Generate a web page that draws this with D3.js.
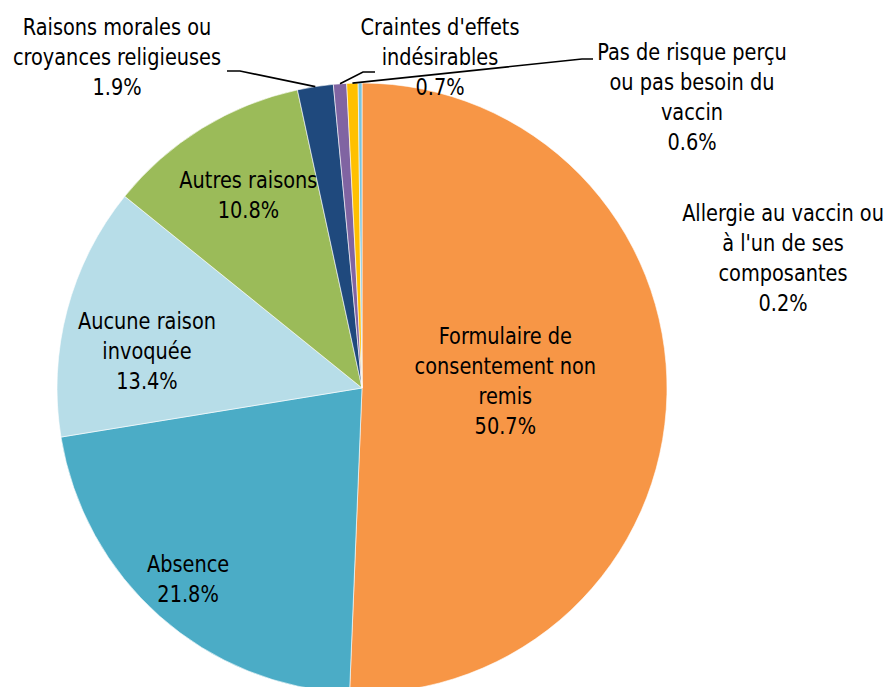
<!DOCTYPE html>
<html>
<head>
<meta charset="utf-8">
<script src="https://cdn.jsdelivr.net/npm/d3@7"></script>
<style>
  html, body { margin: 0; padding: 0; background: #fff; }
  svg { display: block; }
  text { font-family: "Liberation Sans Narrow", "Arial Narrow", "DejaVu Sans Condensed", sans-serif; font-size: 23px; fill: #000; }
</style>
</head>
<body>
<svg id="chart" width="885" height="687"></svg>
<script>
// ---- data ----
const categories = [
  "Formulaire de consentement non remis",
  "Absence",
  "Aucune raison invoquée",
  "Autres raisons",
  "Raisons morales ou croyances religieuses",
  "Craintes d'effets indésirables",
  "Pas de risque perçu ou pas besoin du vaccin",
  "Allergie au vaccin ou à l'un de ses composantes"
];
const values = [50.7, 21.8, 13.4, 10.8, 1.9, 0.7, 0.6, 0.2];
const labelLines = [
  ["Formulaire de", "consentement non", "remis"],
  ["Absence"],
  ["Aucune raison", "invoquée"],
  ["Autres raisons"],
  ["Raisons morales ou", "croyances religieuses"],
  ["Craintes d'effets", "indésirables"],
  ["Pas de risque perçu", "ou pas besoin du", "vaccin"],
  ["Allergie au vaccin ou", "à l'un de ses", "composantes"]
];
const colors = ["#F79646", "#4BACC6", "#B7DDE8", "#9BBB59", "#1F497D", "#8064A2", "#FFC000", "#7CC4DC"];

// ---- layout ----
const W = 885, H = 687;
const cx = 362, cy = 388, R = 305;
const lineH = 30;
const sx = 0.935; // horizontal condense factor
const labelLayout = [
  {type: "in", r: 0.47, dy: -2},
  {type: "in", r: 0.86, dy: 3},
  {type: "in", r: 0.71, dy: -3, angOff: -0.14},
  {type: "in", r: 0.71, dy: -1},
  {type: "out", x: 117, y: 35, leader: [[227, 71], [240, 71]]},
  {type: "out", x: 440, y: 35, leader: [[375, 72], [363, 72]]},
  {type: "out", x: 692, y: 60, leader: [[593, 59], [582, 59]]},
  {type: "out", x: 783, y: 221}
];

const svg = d3.select("#chart");
const g = svg.append("g").attr("transform", `translate(${cx},${cy})`);

const pie = d3.pie().sort(null).value(d => d);
const arcs = pie(values);
const arc = d3.arc().innerRadius(0).outerRadius(R);

g.selectAll("path.slice")
  .data(arcs)
  .join("path")
  .attr("class", "slice")
  .attr("d", arc)
  .attr("fill", (d, i) => colors[i])
  .attr("stroke", "#fff")
  .attr("stroke-width", 0.6);

const fmt = v => v.toFixed(1) + "%";

arcs.forEach((d, i) => {
  const L = labelLayout[i];
  const lines = labelLines[i].concat([fmt(values[i])]);
  let x0, y0;
  if (L.type === "in") {
    const a = (d.startAngle + d.endAngle) / 2 + (L.angOff || 0);
    const rr = R * L.r;
    const px = Math.sin(a) * rr, py = -Math.cos(a) * rr;
    x0 = cx + px;
    const n = lines.length;
    y0 = cy + py - (n - 1) * lineH / 2 + L.dy;
  } else {
    x0 = L.x; y0 = L.y;
    if (L.leader) {
      const a = (d.startAngle + d.endAngle) / 2;
      const ex = cx + Math.sin(a) * R, ey = cy - Math.cos(a) * R;
      const pts = L.leader.concat([[ex, ey]]);
      svg.append("path")
        .attr("d", d3.line()(pts))
        .attr("fill", "none")
        .attr("stroke", "#000")
        .attr("stroke-width", 1.6);
    }
  }
  const t = svg.append("text")
    .attr("text-anchor", "middle")
    .attr("transform", `translate(${x0},0) scale(${sx},1)`);
  lines.forEach((s, k) => {
    t.append("tspan").attr("x", 0).attr("y", y0 + k * lineH).text(s);
  });
});
</script>
</body>
</html>
